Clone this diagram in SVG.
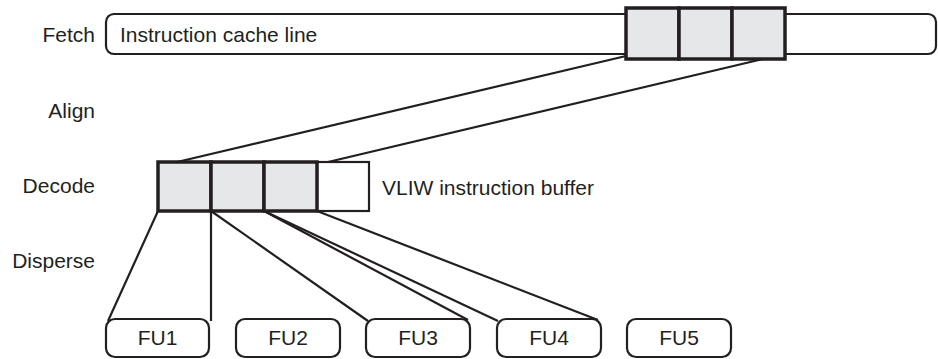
<svg xmlns="http://www.w3.org/2000/svg" width="938" height="359" viewBox="0 0 938 359">
<style>
text{font-family:"Liberation Sans",Arial,sans-serif;font-size:21px;fill:#231f20}
.lbl{text-anchor:end}
.rr{fill:#fff;stroke:#231f20;stroke-width:2.2}
.cell{fill:#e6e7e8;stroke:#231f20;stroke-width:3.5}
.wcell{fill:#fff;stroke:#231f20;stroke-width:2.2}
.fu text{text-anchor:middle}
#connectors line{stroke:#231f20;stroke-width:2.2;fill:none}
</style>
<rect width="938" height="359" fill="#fff"/>
<g id="stage-labels">
<text class="lbl" x="95" y="42">Fetch</text>
<text class="lbl" x="95" y="118">Align</text>
<text class="lbl" x="95" y="193">Decode</text>
<text class="lbl" x="95" y="268">Disperse</text>
</g>
<g id="cache-line">
<rect class="rr" x="106" y="14" width="830" height="40" rx="8"/>
<text x="120" y="42">Instruction cache line</text>
</g>
<g id="fetched-instructions">
<rect class="cell" x="626" y="8" width="53" height="51"/>
<rect class="cell" x="679" y="8" width="53" height="51"/>
<rect class="cell" x="732" y="8" width="53" height="51"/>
</g>
<g id="connectors">
<line x1="626" y1="56" x2="177" y2="162"/>
<line x1="763" y1="59" x2="328" y2="162"/>
<line x1="158" y1="211" x2="108" y2="321"/>
<line x1="211" y1="211" x2="211" y2="321"/>
<line x1="211" y1="211" x2="368" y2="321"/>
<line x1="264" y1="211" x2="468" y2="320"/>
<line x1="264" y1="211" x2="498" y2="321"/>
<line x1="317" y1="211" x2="598" y2="320"/>
</g>
<g id="vliw-buffer">
<rect class="wcell" x="317" y="162" width="52" height="49"/>
<rect class="cell" x="158" y="162" width="53" height="49"/>
<rect class="cell" x="211" y="162" width="53" height="49"/>
<rect class="cell" x="264" y="162" width="53" height="49"/>
<text x="382" y="195">VLIW instruction buffer</text>
</g>
<g id="fu1" class="fu"><rect class="rr" x="106" y="319" width="103" height="38" rx="9"/><text x="157.5" y="345">FU1</text></g>
<g id="fu2" class="fu"><rect class="rr" x="236" y="319" width="104" height="38" rx="9"/><text x="288" y="345">FU2</text></g>
<g id="fu3" class="fu"><rect class="rr" x="366" y="319" width="104" height="38" rx="9"/><text x="418" y="345">FU3</text></g>
<g id="fu4" class="fu"><rect class="rr" x="497" y="319" width="104" height="38" rx="9"/><text x="549" y="345">FU4</text></g>
<g id="fu5" class="fu"><rect class="rr" x="627" y="319" width="104" height="38" rx="9"/><text x="679" y="345">FU5</text></g>
</svg>
